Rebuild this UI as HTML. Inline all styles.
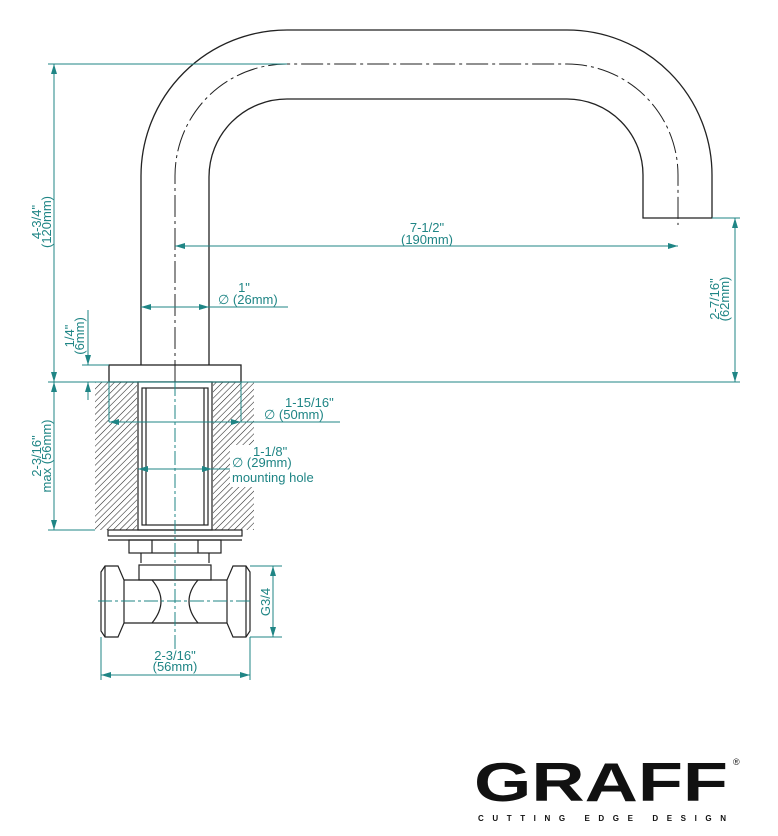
<!DOCTYPE html>
<html><head><meta charset="utf-8"><style>
html,body{margin:0;padding:0;background:#fff;}
svg{display:block;}
text{font-family:"Liberation Sans",sans-serif;fill:#1f8585;font-size:13px;}
</style></head><body>
<svg width="778" height="836" viewBox="0 0 778 836" xmlns="http://www.w3.org/2000/svg">
<defs>
<pattern id="h" width="4.5" height="4.5" patternUnits="userSpaceOnUse" patternTransform="rotate(45)">
<line x1="0" y1="0" x2="0" y2="4.5" stroke="#222" stroke-width="1.1"/>
</pattern>
<marker id="a" viewBox="0 0 10 6" refX="10" refY="3" markerWidth="10" markerHeight="6" orient="auto-start-reverse" markerUnits="userSpaceOnUse"><path d="M0,0L10,3L0,6z" fill="#1f8585"/></marker>
</defs>
<g fill="none" stroke="#222" stroke-width="1.3">
<path d="M141,365 V176 A146,146 0 0 1 287,30 H567 A145,145 0 0 1 712,175 V218 H643 V176 A76,76 0 0 0 567,99 H287 A78,78 0 0 0 209,177 V365"/>
<path d="M175,382 V176 A112,112 0 0 1 287,64 H567 A111,111 0 0 1 678,175 V225" stroke-dasharray="22,4,3,4" stroke-width="1"/>
<rect x="109" y="365" width="132" height="17"/>
</g>
<rect x="95" y="382" width="42" height="148" fill="url(#h)"/>
<rect x="213" y="382" width="41" height="148" fill="url(#h)"/>
<g fill="none" stroke="#222" stroke-width="1.2">
<rect x="138" y="382" width="74" height="148" fill="#fff"/>
<rect x="142" y="388" width="66" height="137"/>
<line x1="146" y1="388" x2="146" y2="525"/><line x1="204" y1="388" x2="204" y2="525"/>
<rect x="108" y="530" width="134" height="6"/>
<line x1="108" y1="540" x2="242" y2="540"/>
<rect x="129" y="540" width="92" height="13"/>
<line x1="152" y1="540" x2="152" y2="553"/><line x1="198" y1="540" x2="198" y2="553"/>
<line x1="141" y1="553" x2="141" y2="563"/><line x1="209" y1="553" x2="209" y2="563"/>
<rect x="139" y="565" width="72" height="15"/>
<path d="M124,580 H227 M124,623 H227"/>
<path d="M152,580 Q170,601 152,623 M198,580 Q180,601 198,623"/>
<path d="M101,572 L105,566 H118 L124,580 V623 L118,637 H105 L101,631 Z"/>
<line x1="105" y1="566" x2="105" y2="637"/>
<path d="M250,572 L246,566 H233 L227,580 V623 L233,637 H246 L250,631 Z"/>
<line x1="246" y1="566" x2="246" y2="637"/>
</g>
<g stroke="#1f8585" stroke-width="1" fill="none">
<line x1="175" y1="382" x2="175" y2="650" stroke-dasharray="14,3,3,3"/>
<line x1="98" y1="601" x2="252" y2="601" stroke-dasharray="14,3,3,3"/>
<line x1="48" y1="64" x2="287" y2="64"/>
<line x1="48" y1="382" x2="740" y2="382"/>
<line x1="48" y1="530" x2="95" y2="530"/>
<line x1="82" y1="365" x2="109" y2="365"/>
<line x1="712" y1="218" x2="740" y2="218"/>
<line x1="101" y1="637" x2="101" y2="680"/><line x1="250" y1="637" x2="250" y2="680"/>
<line x1="250" y1="566" x2="282" y2="566"/><line x1="250" y1="637" x2="282" y2="637"/>
<line x1="109" y1="382" x2="109" y2="422"/><line x1="241" y1="382" x2="241" y2="422"/>
<line x1="54" y1="64" x2="54" y2="382" marker-start="url(#a)" marker-end="url(#a)"/>
<line x1="54" y1="382" x2="54" y2="530" marker-start="url(#a)" marker-end="url(#a)"/>
<line x1="88" y1="310" x2="88" y2="365" marker-end="url(#a)"/>
<line x1="88" y1="382" x2="88" y2="400" marker-start="url(#a)"/>
<line x1="175" y1="246" x2="678" y2="246" marker-start="url(#a)" marker-end="url(#a)"/>
<line x1="735" y1="218" x2="735" y2="382" marker-start="url(#a)" marker-end="url(#a)"/>
<line x1="141" y1="307" x2="209" y2="307" marker-start="url(#a)" marker-end="url(#a)"/>
<line x1="209" y1="307" x2="288" y2="307"/>
<line x1="109" y1="422" x2="241" y2="422" marker-start="url(#a)" marker-end="url(#a)"/>
<line x1="241" y1="422" x2="340" y2="422"/>
<line x1="138" y1="469" x2="212" y2="469" marker-start="url(#a)" marker-end="url(#a)"/>
<line x1="212" y1="469" x2="323" y2="469"/>
<line x1="101" y1="675" x2="250" y2="675" marker-start="url(#a)" marker-end="url(#a)"/>
<line x1="273" y1="566" x2="273" y2="637" marker-start="url(#a)" marker-end="url(#a)"/>
</g>
<g>
<text x="427" y="232" text-anchor="middle">7-1/2"</text>
<text x="427" y="244" text-anchor="middle">(190mm)</text>
<text x="244" y="292" text-anchor="middle">1"</text>
<text x="218" y="304">∅ (26mm)</text>
<text x="285" y="407">1-15/16"</text>
<text x="264" y="419">∅ (50mm)</text>
<rect x="230" y="445" width="96" height="42" fill="#fff"/>
<text x="253" y="456">1-1/8"</text>
<text x="232" y="467">∅ (29mm)</text>
<text x="232" y="482">mounting hole</text>
<text x="175" y="660" text-anchor="middle">2-3/16"</text>
<text x="175" y="671" text-anchor="middle">(56mm)</text>
<text transform="translate(41,222) rotate(-90)" text-anchor="middle">4-3/4"</text>
<text transform="translate(51,222) rotate(-90)" text-anchor="middle">(120mm)</text>
<text transform="translate(74,336) rotate(-90)" text-anchor="middle">1/4"</text>
<text transform="translate(84,336) rotate(-90)" text-anchor="middle">(6mm)</text>
<text transform="translate(41,456) rotate(-90)" text-anchor="middle">2-3/16"</text>
<text transform="translate(51,456) rotate(-90)" text-anchor="middle">max (56mm)</text>
<text transform="translate(719,299) rotate(-90)" text-anchor="middle">2-7/16"</text>
<text transform="translate(729,299) rotate(-90)" text-anchor="middle">(62mm)</text>
<text transform="translate(270,602) rotate(-90)" text-anchor="middle">G3/4</text>
</g>
<text x="474" y="801" style="fill:#111;font-size:55px;font-weight:bold;" textLength="254" lengthAdjust="spacingAndGlyphs">GRAFF</text>
<text x="733" y="765" style="fill:#111;font-size:9px;">®</text>
<text x="478" y="821" style="fill:#111;font-size:8px;font-weight:bold;" textLength="248" lengthAdjust="spacing">CUTTING EDGE DESIGN</text>
</svg>
</body></html>
